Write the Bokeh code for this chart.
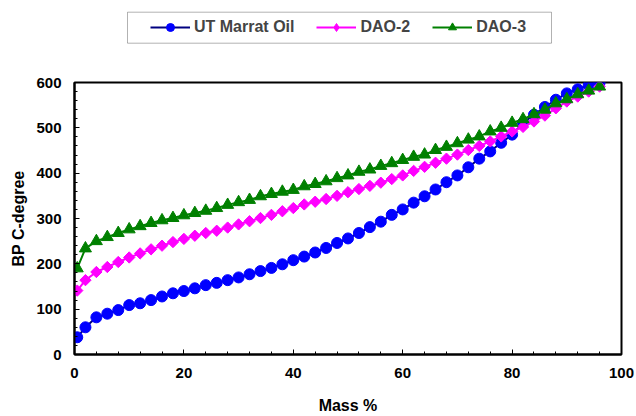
import math
from bokeh.plotting import figure
from bokeh.layouts import column
from bokeh.models import (Legend, LegendItem, Range1d, SingleIntervalTicker,
                          BoxAnnotation)
from bokeh.embed import file_html
from bokeh.resources import INLINE

# ---- data ----
mass = [0.5, 2, 4, 6, 8, 10, 12, 14, 16, 18, 20, 22, 24, 26, 28, 30, 32, 34,
        36, 38, 40, 42, 44, 46, 48, 50, 52, 54, 56, 58, 60, 62, 64, 66, 68,
        70, 72, 74, 76, 78, 80, 82, 84, 86, 88, 90, 92, 94, 96]

ut_marrat = [38, 60, 82, 90, 98, 109, 113, 120, 128, 135,
             140, 146, 153, 158, 164, 170, 177, 184, 191, 199,
             208, 216, 225, 235, 246, 256, 268, 281, 293, 308,
             320, 335, 349, 364, 380, 395, 413, 432, 448, 467,
             485, 511, 529, 546, 562, 576, 585, 594, 600]

dao2 = [141, 164, 182, 193, 204, 214, 223, 232, 240, 248,
        255, 262, 268, 273, 280, 287, 294, 301, 308, 316,
        323, 331, 337, 343, 350, 358, 365, 372, 379, 387,
        395, 405, 414, 423, 432, 441, 451, 460, 470, 481,
        492, 502, 514, 527, 543, 558, 569, 580, 591]

dao3 = [190, 234, 250, 259, 268, 276, 283, 290, 296, 301,
        307, 312, 317, 323, 330, 336, 341, 349, 354, 359,
        363, 371, 376, 382, 389, 395, 403, 408, 416, 422,
        429, 436, 441, 451, 458, 466, 474, 481, 492, 500,
        511, 519, 530, 540, 554, 563, 574, 582, 591]

series_names = ["UT Marrat Oil", "DAO-2", "DAO-3"]
x_label = "Mass %"
y_label = "BP C-degree"

FONT = "Liberation Sans"
line_colors = ["#000080", "#FF00FF", "#008000"]
mark_colors = ["#0000FF", "#FF00FF", "#008000"]
markers = [("circle", 0, 11), ("square", math.pi / 4, 8), ("triangle", 0, 12)]
legend_markers = ["circle", "diamond", "triangle"]
series_values = [ut_marrat, dao2, dao3]

TOP_H = 52

# ---------------- main chart ----------------
p = figure(width=636, height=416 - TOP_H, output_backend="svg",
           toolbar_location=None,
           x_range=Range1d(0, 100), y_range=Range1d(0, 600),
           min_border_left=74, min_border_right=15,
           min_border_top=82 - TOP_H, min_border_bottom=59)

p.xgrid.visible = False
p.ygrid.visible = False
p.outline_line_color = "black"
p.outline_line_width = 2
p.background_fill_color = "white"
p.border_fill_color = "white"

p.xaxis.ticker = SingleIntervalTicker(interval=20, num_minor_ticks=5)
p.yaxis.ticker = SingleIntervalTicker(interval=100, num_minor_ticks=5)

for ax in (p.xaxis[0], p.yaxis[0]):
    ax.axis_line_color = "black"
    ax.axis_line_width = 2
    ax.major_tick_in = 5
    ax.major_tick_out = 0
    ax.minor_tick_in = 3
    ax.minor_tick_out = 0
    ax.major_tick_line_color = "black"
    ax.minor_tick_line_color = "black"
    ax.major_label_text_font = FONT
    ax.major_label_text_font_style = "bold"
    ax.major_label_text_font_size = "15px"
    ax.major_label_text_color = "black"
    ax.axis_label_text_font = FONT
    ax.axis_label_text_font_style = "bold"
    ax.axis_label_text_font_size = "16px"
    ax.axis_label_text_color = "black"

p.xaxis.axis_label = x_label
p.yaxis.axis_label = y_label
p.xaxis.major_label_standoff = 13
p.xaxis.axis_label_standoff = 16
p.yaxis.major_label_standoff = 13
p.yaxis.axis_label_standoff = 6

for vals, lc, mc, (mk, ang, sz) in zip(series_values, line_colors,
                                       mark_colors, markers):
    p.line(mass, vals, line_color=lc, line_width=2)
    p.scatter(mass, vals, marker=mk, angle=ang, size=sz,
              fill_color=mc, line_color=mc)

# ---------------- legend strip above the chart ----------------
# (frame of this strip is aligned with the chart frame: x 74..621)
t = figure(width=636, height=TOP_H, output_backend="svg",
           toolbar_location=None, x_range=Range1d(0, 1), y_range=Range1d(0, 1),
           x_axis_location=None, y_axis_location=None,
           min_border_left=0, min_border_right=0,
           min_border_top=0, min_border_bottom=0)
t.xgrid.visible = False
t.ygrid.visible = False
t.outline_line_alpha = 0
t.background_fill_color = "white"
t.border_fill_color = "white"

items = []
for name, vals, lc, mc, lmk in zip(series_names, series_values,
                                   line_colors, mark_colors, legend_markers):
    # same series, but outside this strip's range: only the legend shows
    lr = t.line(mass, vals, line_color=lc, line_width=2)
    sr = t.scatter(mass, vals, marker=lmk, size=10,
                   fill_color=mc, line_color=mc)
    items.append(LegendItem(label=name, renderers=[lr, sr]))

box = BoxAnnotation(left=53, right=477, bottom=TOP_H - 42.7,
                    top=TOP_H - 11.7,
                    left_units="screen", right_units="screen",
                    bottom_units="screen", top_units="screen",
                    fill_alpha=0, line_color="black", line_width=1)
t.add_layout(box)

legend = Legend(items=items, orientation="horizontal",
                location=(71, TOP_H - 42), padding=5,
                margin=0, spacing=22, label_standoff=4, glyph_width=40,
                glyph_height=20, label_text_font=FONT,
                label_text_font_style="bold", label_text_font_size="16px",
                border_line_alpha=0, background_fill_alpha=0)
t.add_layout(legend)

layout = column(t, p, spacing=0)
open("out.html", "w").write(file_html(layout, INLINE))
